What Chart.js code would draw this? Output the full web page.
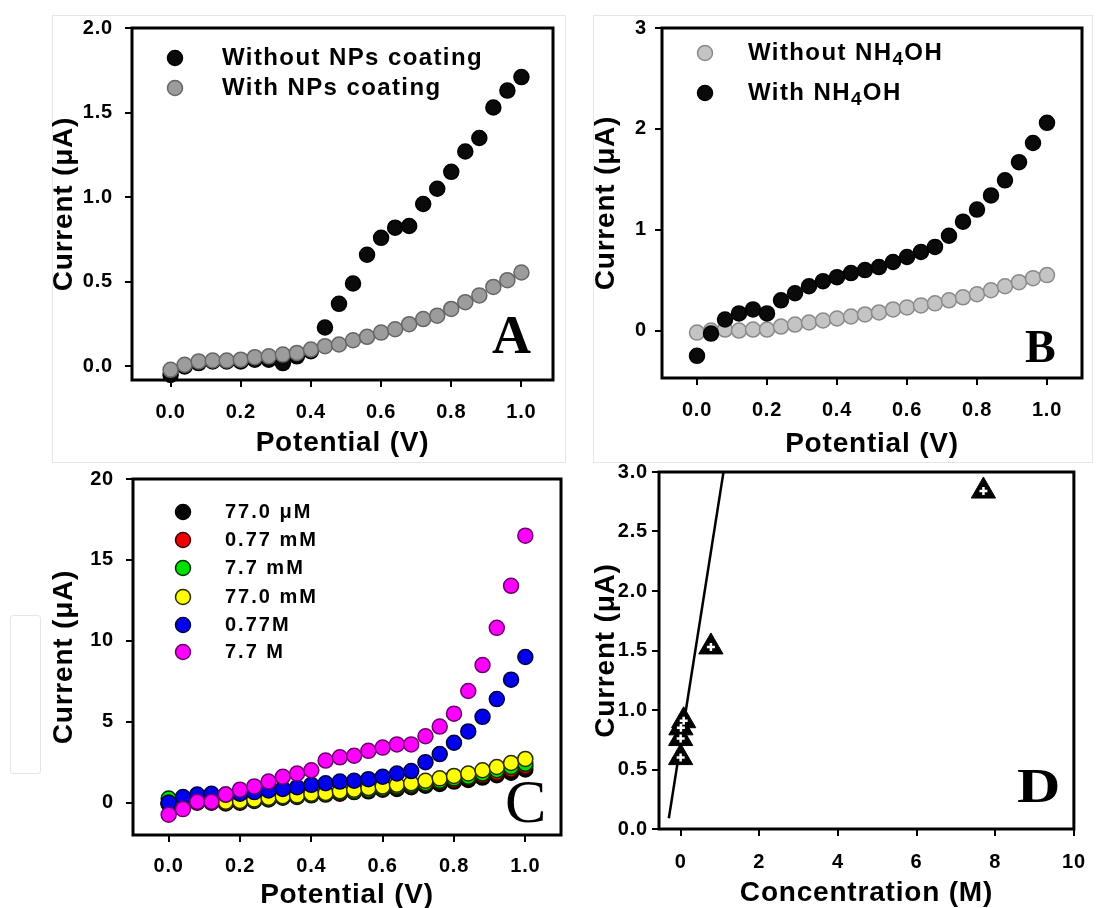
<!DOCTYPE html>
<html>
<head>
<meta charset="utf-8">
<script src="https://cdn.jsdelivr.net/npm/chart.js@4.4.1/dist/chart.umd.min.js"></script>
<style>
  html, body { margin: 0; padding: 0; background: #fff; width: 1099px; height: 908px; overflow: hidden; }
  canvas { position: absolute; }
  .frame { position: absolute; border: 1px solid #e6e6e6; }
</style>
</head>
<body>
<div class="frame" style="left:52px;top:15px;width:512px;height:446px"></div>
<div class="frame" style="left:593px;top:15px;width:498px;height:446px"></div>
<div class="frame" style="left:10px;top:615px;width:29px;height:157px;border-radius:3px"></div>
<canvas id="cA" width="540" height="470" style="left:30px;top:0px"></canvas>
<canvas id="cB" width="539" height="470" style="left:560px;top:0px"></canvas>
<canvas id="cC" width="540" height="485" style="left:30px;top:455px"></canvas>
<canvas id="cD" width="539" height="485" style="left:560px;top:455px"></canvas>
<script>
// ---- data ----
const potential = [0.00, 0.04, 0.08, 0.12, 0.16, 0.20, 0.24, 0.28, 0.32, 0.36, 0.40, 0.44, 0.48,
                   0.52, 0.56, 0.60, 0.64, 0.68, 0.72, 0.76, 0.80, 0.84, 0.88, 0.92, 0.96, 1.00];

// panel A
const withoutCoating = [-0.05, 0.00, 0.02, 0.03, 0.03, 0.03, 0.04, 0.04, 0.02, 0.06, 0.09, 0.23, 0.37,
                        0.49, 0.66, 0.76, 0.82, 0.83, 0.96, 1.05, 1.15, 1.27, 1.35, 1.53, 1.63, 1.71];
const withCoating = [-0.02, 0.01, 0.03, 0.035, 0.035, 0.04, 0.055, 0.06, 0.07, 0.08, 0.10, 0.12, 0.13,
                     0.155, 0.175, 0.20, 0.22, 0.25, 0.28, 0.30, 0.34, 0.38, 0.42, 0.47, 0.51, 0.555];

// panel B
const withoutNH4OH = [-0.02, 0.00, 0.01, 0.00, 0.01, 0.01, 0.04, 0.06, 0.08, 0.10, 0.12, 0.14, 0.16,
                      0.18, 0.21, 0.23, 0.25, 0.27, 0.30, 0.33, 0.36, 0.40, 0.44, 0.48, 0.52, 0.55];
const withNH4OH = [-0.25, -0.03, 0.11, 0.17, 0.21, 0.17, 0.30, 0.37, 0.44, 0.49, 0.53, 0.57, 0.60,
                   0.63, 0.68, 0.73, 0.78, 0.83, 0.94, 1.08, 1.20, 1.34, 1.49, 1.67, 1.86, 2.06];

// panel C
const conc77uM = [-0.10, 0.00, 0.00, 0.00, -0.05, 0.00, 0.10, 0.20, 0.30, 0.35, 0.45, 0.50, 0.55,
                  0.65, 0.70, 0.80, 0.85, 0.95, 1.05, 1.15, 1.30, 1.40, 1.55, 1.70, 1.85, 2.05];
const conc077mM = [-0.05, 0.05, 0.05, 0.05, 0.00, 0.05, 0.15, 0.25, 0.35, 0.40, 0.50, 0.55, 0.60,
                   0.70, 0.80, 0.85, 0.95, 1.05, 1.15, 1.30, 1.40, 1.55, 1.70, 1.85, 2.05, 2.25];
const conc77mM = [0.25, 0.15, 0.10, 0.10, 0.05, 0.10, 0.15, 0.25, 0.35, 0.40, 0.50, 0.55, 0.65,
                  0.70, 0.80, 0.90, 1.00, 1.10, 1.20, 1.35, 1.50, 1.60, 1.80, 2.00, 2.20, 2.40];
const conc770mM = [0.00, 0.10, 0.10, 0.10, 0.05, 0.10, 0.20, 0.30, 0.40, 0.45, 0.55, 0.60, 0.70,
                   0.80, 0.90, 1.00, 1.10, 1.20, 1.35, 1.50, 1.65, 1.80, 2.00, 2.20, 2.45, 2.70];
const conc077M = [0.00, 0.35, 0.50, 0.55, 0.50, 0.55, 0.65, 0.75, 0.85, 0.95, 1.10, 1.20, 1.30,
                  1.35, 1.45, 1.60, 1.80, 1.95, 2.50, 3.00, 3.70, 4.40, 5.30, 6.40, 7.60, 9.00];
const conc77M = [-0.75, -0.40, 0.05, 0.05, 0.50, 0.80, 1.00, 1.30, 1.60, 1.80, 2.00, 2.60, 2.80,
                 2.90, 3.20, 3.40, 3.60, 3.60, 4.10, 4.70, 5.50, 6.90, 8.50, 10.80, 13.40, 16.50];

// panel D
const concentration = [0.000077, 0.00077, 0.0077, 0.077, 0.77, 7.7];
const peakCurrent = [0.60, 0.76, 0.85, 0.91, 1.53, 2.84];
const fitConc = [-0.30, 1.09];
const fitCurrent = [0.09, 3.00];

// tick values and labels
const potentialTicks = [0, 0.2, 0.4, 0.6, 0.8, 1.0];
const potentialLabels = ['0.0', '0.2', '0.4', '0.6', '0.8', '1.0'];
const currentTicksA = [0, 0.5, 1.0, 1.5, 2.0];
const currentLabelsA = ['0.0', '0.5', '1.0', '1.5', '2.0'];
const currentTicksB = [0, 1, 2, 3];
const currentLabelsB = ['0', '1', '2', '3'];
const currentTicksC = [0, 5, 10, 15, 20];
const currentLabelsC = ['0', '5', '10', '15', '20'];
const currentTicksD = [0, 0.5, 1.0, 1.5, 2.0, 2.5, 3.0];
const currentLabelsD = ['0.0', '0.5', '1.0', '1.5', '2.0', '2.5', '3.0'];
const concTicks = [0, 2, 4, 6, 8, 10];
const concLabels = ['0', '2', '4', '6', '8', '10'];

// ---- helpers ----
Chart.defaults.font.family = '"Liberation Sans", Arial, sans-serif';
Chart.defaults.color = '#000';

const pts = (xs, ys) => xs.map((x, i) => ({ x, y: ys[i] }));

function axis(o) {
  const left = o.pos === 'left';
  return {
    type: 'linear', position: o.pos, min: o.min, max: o.max,
    afterFit: s => { if (left) s.width = o.size; else s.height = o.size; },
    afterBuildTicks: s => { s.ticks = o.ticks.map(v => ({ value: v })); },
    ticks: {
      callback: (v, i) => o.labels[i], padding: o.tickPad, autoSkip: false, maxRotation: 0,
      font: { size: 20, weight: 'bold' }, color: '#000',
    },
    grid: { drawOnChartArea: false, drawTicks: true, tickLength: 7, tickWidth: 2, color: '#000', lineWidth: 2 },
    border: { display: false },
    title: {
      display: true, text: o.title, color: '#000',
      font: { size: 28, weight: 'bold', lineHeight: 1 },
      padding: left ? { top: o.titlePad, bottom: 0 } : { top: 0, bottom: o.titlePad },
    },
  };
}

function dots(label, ys, fill, edge, order) {
  return {
    label, data: pts(potential, ys), order, clip: false,
    pointRadius: 7.5, pointHoverRadius: 7.5, pointBorderWidth: 1.5,
    pointBackgroundColor: fill, pointBorderColor: edge,
    backgroundColor: fill, borderColor: edge,
  };
}

function drawLabel(ctx, text, x, y, size) {
  // digits right after a capital letter are chemical subscripts (NH4OH)
  const parts = text.split(/(?<=[A-Z])(\d)/);
  parts.forEach((p, i) => {
    const sub = i % 2 === 1;
    ctx.font = `bold ${sub ? Math.round(size * 0.8) : size}px "Liberation Sans", Arial, sans-serif`;
    ctx.fillText(p, x, sub ? y + size * 0.3 : y);
    x += ctx.measureText(p).width;
  });
}

function decor(cfg) {
  return {
    id: 'decor',
    beforeDraw(chart) { chart.ctx.letterSpacing = '0.8px'; },
    afterDraw(chart) {
      const { ctx, chartArea: a } = chart;
      ctx.save();
      ctx.lineWidth = 3;
      ctx.strokeStyle = '#000';
      ctx.strokeRect(a.left, a.top, a.right - a.left, a.bottom - a.top);

      if (cfg.legend) {
        const L = cfg.legend;
        ctx.textBaseline = 'middle';
        ctx.letterSpacing = L.spacing + 'px';
        L.rows.forEach((y, i) => {
          const ds = chart.data.datasets[i];
          ctx.beginPath();
          ctx.arc(L.x, y, 7.5, 0, Math.PI * 2);
          ctx.fillStyle = ds.pointBackgroundColor;
          ctx.fill();
          ctx.lineWidth = 1.5;
          ctx.strokeStyle = ds.pointBorderColor;
          ctx.stroke();
          ctx.fillStyle = '#000';
          drawLabel(ctx, ds.label, L.textX, y, L.size);
        });
      }

      const T = cfg.letter;
      ctx.letterSpacing = '0px';
      ctx.textBaseline = 'alphabetic';
      ctx.fillStyle = '#000';
      ctx.font = T.font;
      ctx.translate(T.x, T.y);
      ctx.scale(T.sx || 1, 1);
      ctx.fillText(T.text, 0, 0);
      ctx.restore();
    },
  };
}

function panel(id, datasets, scales, padding, cfg) {
  return new Chart(document.getElementById(id), {
    type: 'scatter',
    data: { datasets },
    options: {
      responsive: false, animation: false, devicePixelRatio: 1,
      layout: { padding },
      plugins: { legend: { display: false }, tooltip: { enabled: false } },
      scales,
    },
    plugins: [decor(cfg)],
  });
}

// ---- panel A ----
panel('cA', [
  dots('Without NPs coating', withoutCoating, '#0a0a0a', '#000', 2),
  dots('With NPs coating', withCoating, '#9c9c9c', '#666', 1),
], {
  x: axis({ pos: 'bottom', min: -0.11, max: 1.09, ticks: potentialTicks, labels: potentialLabels,
            title: 'Potential (V)', size: 90, tickPad: 13, titlePad: 13 }),
  y: axis({ pos: 'left', min: -0.08, max: 2.0, ticks: currentTicksA, labels: currentLabelsA,
            title: 'Current (μA)', size: 102, tickPad: 12, titlePad: 20 }),
}, { top: 28, right: 17, left: 0, bottom: 0 }, {
  legend: { x: 145, textX: 192, rows: [58, 88], size: 24, spacing: 1.4 },
  letter: { text: 'A', x: 462, y: 353, font: 'bold 54px "Liberation Serif", serif' },
});

// ---- panel B ----
panel('cB', [
  dots('Without NH4OH', withoutNH4OH, '#c4c4c4', '#8a8a8a', 2),
  dots('With NH4OH', withNH4OH, '#0a0a0a', '#000', 1),
], {
  x: axis({ pos: 'bottom', min: -0.1, max: 1.1, ticks: potentialTicks, labels: potentialLabels,
            title: 'Potential (V)', size: 92, tickPad: 13, titlePad: 12 }),
  y: axis({ pos: 'left', min: -0.47, max: 3, ticks: currentTicksB, labels: currentLabelsB,
            title: 'Current (μA)', size: 102, tickPad: 8, titlePad: 32 }),
}, { top: 28, right: 17, left: 0, bottom: 0 }, {
  legend: { x: 145, textX: 188, rows: [53, 93], size: 24, spacing: 1.4 },
  letter: { text: 'B', x: 465, y: 362, font: 'bold 46px "Liberation Serif", serif' },
});

// ---- panel C ----
panel('cC', [
  dots('77.0 μM', conc77uM, '#050505', '#000', 6),
  dots('0.77 mM', conc077mM, '#f00000', '#400000', 5),
  dots('7.7 mM', conc77mM, '#00e000', '#003000', 4),
  dots('77.0 mM', conc770mM, '#ffff00', '#2a2a00', 3),
  dots('0.77M', conc077M, '#0000ee', '#00003a', 2),
  dots('7.7 M', conc77M, '#ff00ff', '#6a006a', 1),
], {
  x: axis({ pos: 'bottom', min: -0.1, max: 1.1, ticks: potentialTicks, labels: potentialLabels,
            title: 'Potential (V)', size: 105, tickPad: 12, titlePad: 31 }),
  y: axis({ pos: 'left', min: -2, max: 20, ticks: currentTicksC, labels: currentLabelsC,
            title: 'Current (μA)', size: 103, tickPad: 12, titlePad: 20 }),
}, { top: 18, right: 7, left: 0, bottom: 0 }, {
  legend: { x: 153, textX: 195, rows: [57, 85, 113, 142, 170, 197], size: 20, spacing: 2 },
  letter: { text: 'C', x: 475, y: 367, font: '62px "Liberation Serif", serif' },
});

// ---- panel D ----
panel('cD', [
  {
    label: 'Current', data: pts(concentration, peakCurrent), order: 1, clip: false,
    pointStyle: 'cross', pointRadius: 4, pointHoverRadius: 4, pointBorderWidth: 2.5,
    pointBorderColor: '#fff', pointBackgroundColor: '#fff',
  },
  {
    label: 'Current', data: pts(concentration, peakCurrent), order: 2, clip: false,
    pointStyle: 'triangle', pointRadius: 14, pointHoverRadius: 14, pointBorderWidth: 1,
    pointBackgroundColor: '#000', pointBorderColor: '#000',
  },
  {
    label: 'Fit', data: pts(fitConc, fitCurrent), order: 3, showLine: true,
    borderColor: '#000', borderWidth: 2.5, pointRadius: 0, pointHoverRadius: 0,
  },
], {
  x: axis({ pos: 'bottom', min: -0.55, max: 10, ticks: concTicks, labels: concLabels,
            title: 'Concentration (M)', size: 111, tickPad: 14, titlePad: 33 }),
  y: axis({ pos: 'left', min: 0, max: 3, ticks: currentTicksD, labels: currentLabelsD,
            title: 'Current (μA)', size: 99, tickPad: 4, titlePad: 32 }),
}, { top: 17, right: 12, left: 0, bottom: 0 }, {
  letter: { text: 'D', x: 457, y: 347, sx: 1.25, font: 'bold 48px "Liberation Serif", serif' },
});
</script>
</body>
</html>
